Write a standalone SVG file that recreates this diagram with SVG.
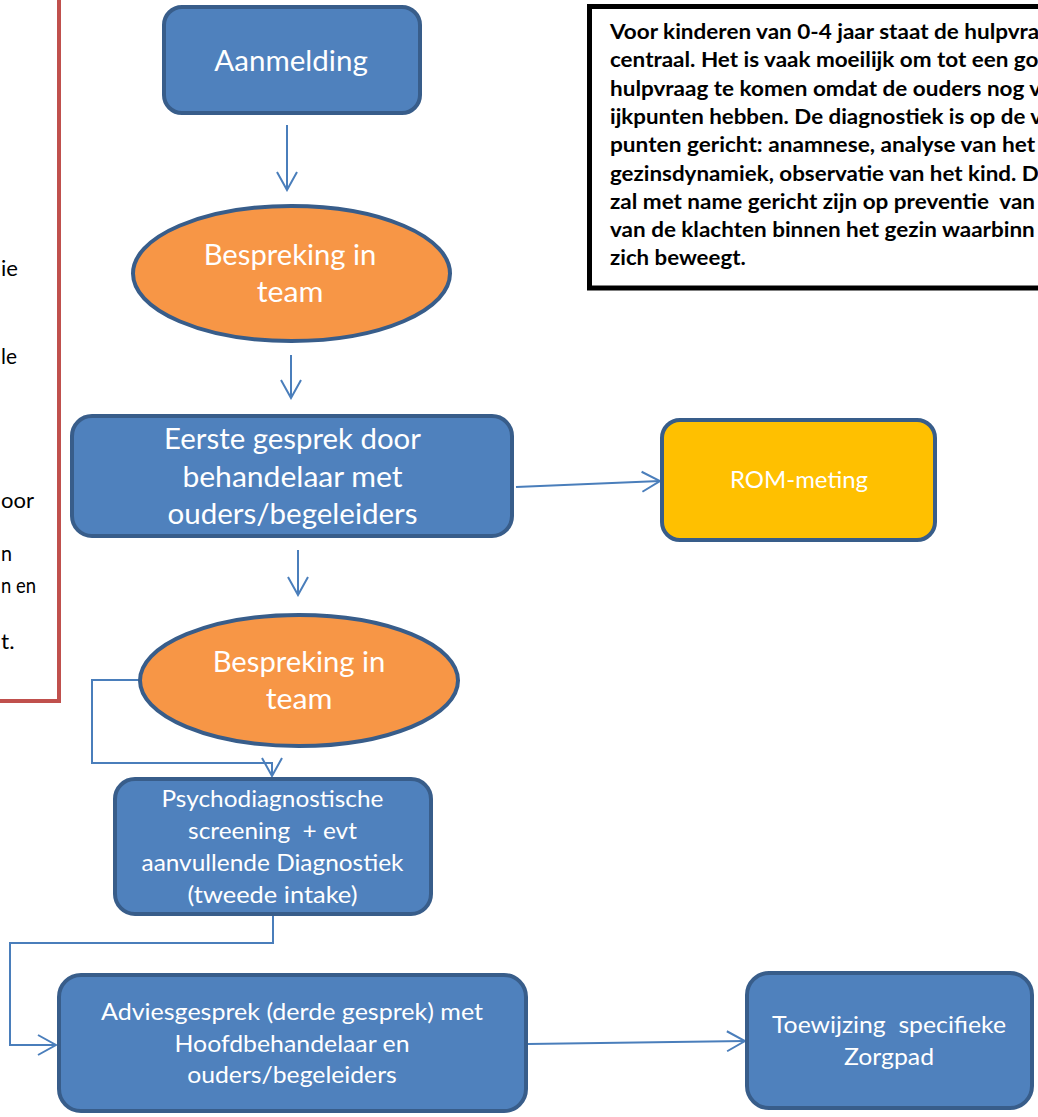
<svg xmlns="http://www.w3.org/2000/svg" width="1038" height="1117" viewBox="0 0 1038 1117">
<style>
.box{fill:#4F81BD;stroke:#385D8A;stroke-width:4}
.oval{fill:#F79646;stroke:#385D8A;stroke-width:4}
.rom{fill:#FFC000;stroke:#385D8A;stroke-width:4}
.lbl{font-family:Lato,"Open Sans","Liberation Sans",sans-serif;fill:#FFFFFF;text-anchor:middle}
.big{font-size:29px}
.small{font-size:24px}
.note{font-family:Lato,"Open Sans","Liberation Sans",sans-serif;font-weight:bold;font-size:21.7px;fill:#000000}
.frag{font-family:Lato,"Open Sans","Liberation Sans",sans-serif;font-size:21.7px;fill:#000000}
.conn{fill:none;stroke:#4A7EBB;stroke-width:2}
</style>
<defs>
<marker id="arr" markerUnits="userSpaceOnUse" viewBox="0 0 22 24" refX="20" refY="12" markerWidth="22" markerHeight="24" orient="auto">
<path d="M2,2 L20,12 L2,22" fill="none" stroke="#4A7EBB" stroke-width="2"/>
</marker>
</defs>
<rect width="1038" height="1117" fill="#FFFFFF"/>

<g id="left-panel">
<rect x="-10" y="-10" width="69" height="711" fill="#FFFFFF" stroke="#C0504D" stroke-width="4"/>
<text class="frag" x="1" y="276" textLength="17" lengthAdjust="spacingAndGlyphs">ie</text>
<text class="frag" x="1" y="364" textLength="16" lengthAdjust="spacingAndGlyphs">le</text>
<text class="frag" x="1" y="508" textLength="33" lengthAdjust="spacingAndGlyphs">oor</text>
<text class="frag" x="1" y="561" textLength="11" lengthAdjust="spacingAndGlyphs">n</text>
<text class="frag" x="1" y="593" textLength="35" lengthAdjust="spacingAndGlyphs">n en</text>
<text class="frag" x="1" y="649" textLength="13.5" lengthAdjust="spacingAndGlyphs">t.</text>
</g>

<g id="info-box">
<rect x="589.5" y="6.5" width="470" height="281.5" fill="#FFFFFF" stroke="#000000" stroke-width="5"/>
<text class="note" x="610" y="39" textLength="429.3" lengthAdjust="spacingAndGlyphs">Voor kinderen van 0-4 jaar staat de hulpvra</text>
<text class="note" x="610" y="67.3" textLength="428.4" lengthAdjust="spacingAndGlyphs">centraal. Het is vaak moeilijk om tot een go</text>
<text class="note" x="610" y="95.6" textLength="431.1" lengthAdjust="spacingAndGlyphs">hulpvraag te komen omdat de ouders nog v</text>
<text class="note" x="610" y="123.9" textLength="432" lengthAdjust="spacingAndGlyphs">ijkpunten hebben. De diagnostiek is op de v</text>
<text class="note" x="610" y="152.2" textLength="425.1" lengthAdjust="spacingAndGlyphs">punten gericht: anamnese, analyse van het</text>
<text class="note" x="610" y="180.5" textLength="428.7" lengthAdjust="spacingAndGlyphs">gezinsdynamiek, observatie van het kind. D</text>
<text class="note" x="610" y="208.8" textLength="425" lengthAdjust="spacingAndGlyphs" xml:space="preserve">zal met name gericht zijn op preventie  van</text>
<text class="note" x="610" y="237.1" textLength="424.8" lengthAdjust="spacingAndGlyphs">van de klachten binnen het gezin waarbinn</text>
<text class="note" x="610" y="265.4" textLength="135.7" lengthAdjust="spacingAndGlyphs">zich beweegt.</text>
</g>

<g id="connectors">
<line class="conn" x1="287" y1="125" x2="287" y2="190" marker-end="url(#arr)"/>
<line class="conn" x1="291" y1="355" x2="291" y2="398" marker-end="url(#arr)"/>
<line class="conn" x1="516" y1="487" x2="660" y2="481" marker-end="url(#arr)"/>
<line class="conn" x1="298" y1="550" x2="298" y2="595" marker-end="url(#arr)"/>
<polyline class="conn" points="140,680 92,680 92,763 272,763 272,776" marker-end="url(#arr)"/>
<polyline class="conn" points="273,916 273,943 10,943 10,1045 56,1045" marker-end="url(#arr)"/>
<line class="conn" x1="528" y1="1044" x2="745" y2="1041" marker-end="url(#arr)"/>
</g>

<g id="aanmelding">
<rect class="box" x="164" y="7" width="256" height="106" rx="18"/>
<text class="lbl big" x="291" y="71" textLength="153.5" lengthAdjust="spacingAndGlyphs">Aanmelding</text>
</g>

<g id="bespreking-1">
<ellipse class="oval" cx="291.5" cy="273.5" rx="158.5" ry="67.5"/>
<text class="lbl big" x="290" y="265" textLength="172.7" lengthAdjust="spacingAndGlyphs">Bespreking in</text>
<text class="lbl big" x="290" y="302" textLength="66.7" lengthAdjust="spacingAndGlyphs">team</text>
</g>

<g id="eerste-gesprek">
<rect class="box" x="72" y="416" width="440" height="120" rx="20"/>
<text class="lbl big" x="292.5" y="449" textLength="256.8" lengthAdjust="spacingAndGlyphs">Eerste gesprek door</text>
<text class="lbl big" x="292.5" y="486.5" textLength="220.2" lengthAdjust="spacingAndGlyphs">behandelaar met</text>
<text class="lbl big" x="292.5" y="524" textLength="250" lengthAdjust="spacingAndGlyphs">ouders/begeleiders</text>
</g>

<g id="rom-meting">
<rect class="rom" x="662" y="420" width="273" height="120" rx="18"/>
<text class="lbl small" x="799" y="488" textLength="138" lengthAdjust="spacingAndGlyphs">ROM-meting</text>
</g>

<g id="bespreking-2">
<ellipse class="oval" cx="299" cy="680.5" rx="159" ry="65.5"/>
<text class="lbl big" x="299" y="672" textLength="172.7" lengthAdjust="spacingAndGlyphs">Bespreking in</text>
<text class="lbl big" x="299" y="709" textLength="66.7" lengthAdjust="spacingAndGlyphs">team</text>
</g>

<g id="psychodiagnostiek">
<rect class="box" x="115" y="779" width="316" height="135" rx="20"/>
<text class="lbl small" x="272.5" y="807" textLength="222" lengthAdjust="spacingAndGlyphs">Psychodiagnostische</text>
<text class="lbl small" x="272.5" y="839" textLength="168.8" lengthAdjust="spacingAndGlyphs" xml:space="preserve">screening  + evt</text>
<text class="lbl small" x="272.5" y="871" textLength="262" lengthAdjust="spacingAndGlyphs">aanvullende Diagnostiek</text>
<text class="lbl small" x="272.5" y="903" textLength="170" lengthAdjust="spacingAndGlyphs">(tweede intake)</text>
</g>

<g id="adviesgesprek">
<rect class="box" x="59" y="975" width="467" height="136" rx="22"/>
<text class="lbl small" x="292" y="1020" textLength="382" lengthAdjust="spacingAndGlyphs">Adviesgesprek (derde gesprek) met</text>
<text class="lbl small" x="292" y="1052" textLength="235" lengthAdjust="spacingAndGlyphs">Hoofdbehandelaar en</text>
<text class="lbl small" x="292" y="1083" textLength="209.7" lengthAdjust="spacingAndGlyphs">ouders/begeleiders</text>
</g>

<g id="toewijzing">
<rect class="box" x="747" y="973" width="285" height="135" rx="22"/>
<text class="lbl small" x="889" y="1033" textLength="234" lengthAdjust="spacingAndGlyphs" xml:space="preserve">Toewijzing  specifieke</text>
<text class="lbl small" x="889" y="1065" textLength="90" lengthAdjust="spacingAndGlyphs">Zorgpad</text>
</g>
</svg>
